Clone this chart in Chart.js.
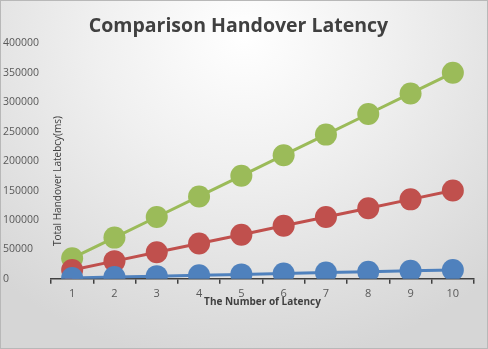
<!DOCTYPE html>
<html>
<head>
<meta charset="utf-8">
<script src="https://cdn.jsdelivr.net/npm/chart.js@4/dist/chart.umd.min.js"></script>
<style>
    html, body { margin: 0; padding: 0; }
    #wrap {
        width: 486px;
        height: 347px;
        border: 1px solid #b8b8b8;
        background: radial-gradient(ellipse 75% 95% at 50% 10%, #ffffff 0%, #f0f0f0 40%, #d6d6d6 100%);
    }
</style>
</head>
<body>
<div id="wrap"><canvas id="latency-chart" width="486" height="347"></canvas></div>
<script>
    // chart data
    const categories = ['1', '2', '3', '4', '5', '6', '7', '8', '9', '10'];
    const blueValues = [1500, 3000, 4500, 6000, 7500, 9000, 10500, 12000, 13500, 15000];
    const redValues = [15000, 30000, 45000, 60000, 75000, 90000, 105000, 120000, 135000, 150000];
    const greenValues = [35000, 70000, 105000, 140000, 175000, 210000, 245000, 280000, 315000, 350000];
    const yTicks = [0, 50000, 100000, 150000, 200000, 250000, 300000, 350000, 400000];

    // y axis title sits inside the plot like in the original
    const yTitlePlugin = {
        id: 'yTitle',
        afterDraw: function(chart) {
            const ctx = chart.ctx;
            const area = chart.chartArea;
            ctx.save();
            ctx.translate(area.left + 7, 180);
            ctx.rotate(-Math.PI / 2);
            ctx.font = '10px "Open Sans"';
            ctx.fillStyle = '#404040';
            ctx.textAlign = 'center';
            ctx.textBaseline = 'middle';
            ctx.fillText('Total Handover Latebcy(ms)', 0, 0);
            ctx.restore();
        }
    };

    function series(data, color) {
        return {
            data: data,
            borderColor: color,
            backgroundColor: color,
            borderWidth: 3,
            pointRadius: 11,
            pointHoverRadius: 11,
            pointBorderWidth: 0,
            tension: 0
        };
    }

    const ctx = document.getElementById('latency-chart').getContext('2d');
    new Chart(ctx, {
        type: 'line',
        data: {
            labels: categories,
            datasets: [
                series(blueValues, '#4f81bd'),
                series(redValues, '#c0504d'),
                series(greenValues, '#9bbb59')
            ]
        },
        options: {
            responsive: false,
            animation: false,
            layout: {
                padding: { left: 2, right: 13, bottom: 40 }
            },
            scales: {
                x: {
                    offset: true,
                    grid: {
                        offset: true,
                        drawOnChartArea: false,
                        drawTicks: true,
                        tickLength: 5,
                        color: '#404040',
                        lineWidth: 1.5
                    },
                    border: { display: true, color: '#404040', width: 1.5 },
                    ticks: {
                        color: '#595959',
                        font: { family: 'Open Sans', size: 11 },
                        padding: 3,
                        maxRotation: 0
                    },
                    title: {
                        display: true,
                        text: 'The Number of Latency',
                        color: '#404040',
                        font: { family: 'Open Sans', size: 10, weight: 'bold' },
                        padding: { top: -7, bottom: 0 }
                    }
                },
                y: {
                    min: 0,
                    max: 400000,
                    afterBuildTicks: function(axis) {
                        axis.ticks = yTicks.map(function(v) { return { value: v }; });
                    },
                    afterFit: function(axis) {
                        axis.width = 48;
                    },
                    grid: { display: false },
                    border: { display: false },
                    ticks: {
                        color: '#595959',
                        font: { family: 'Open Sans', size: 10.5 },
                        crossAlign: 'far',
                        padding: 4,
                        callback: function(value) { return String(value); }
                    }
                }
            },
            plugins: {
                legend: { display: false },
                tooltip: { enabled: false },
                title: {
                    display: true,
                    text: 'Comparison Handover Latency',
                    color: '#404040',
                    font: { family: 'Open Sans', size: 19.5, weight: 'bold' },
                    padding: { top: 14, bottom: 5 }
                }
            }
        },
        plugins: [yTitlePlugin]
    });
</script>
</body>
</html>
